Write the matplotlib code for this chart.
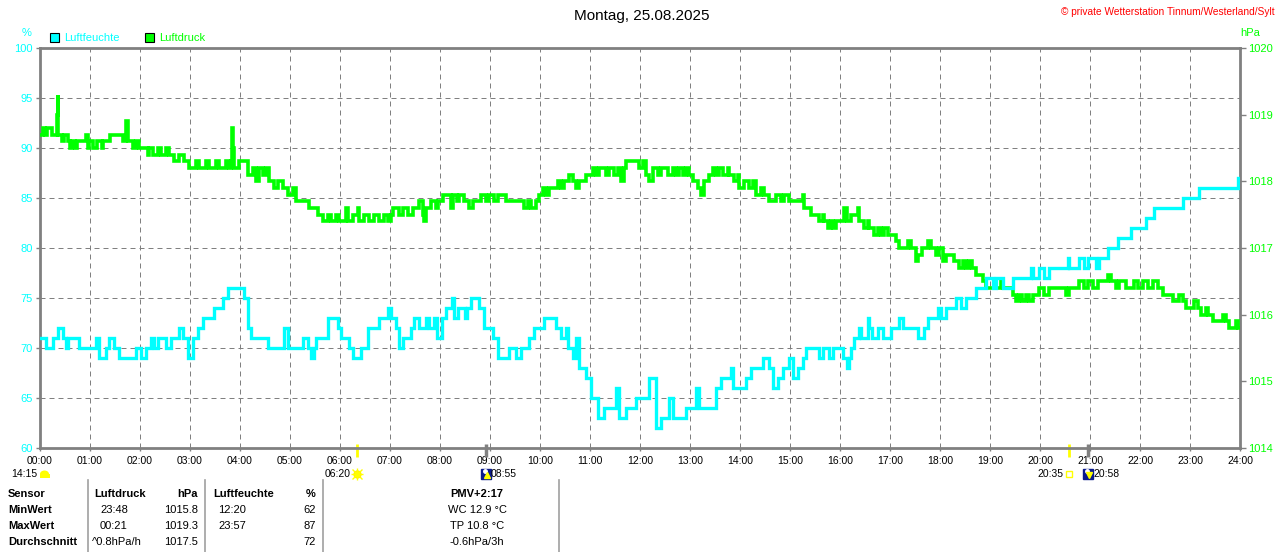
import numpy as np
import matplotlib
matplotlib.use('Agg')
import matplotlib.pyplot as plt
import matplotlib.transforms as mtransforms
import matplotlib.patches as mpatches

plt.rcParams['font.family'] = ['Liberation Sans', 'DejaVu Sans']

# === DATA (minutes since midnight) ===
hum_t = [0, 7, 15, 21, 27, 31, 33, 47, 67, 71, 79, 83, 89, 95, 115, 121, 127, 133, 137, 141,
         151, 157, 167, 171, 177, 183, 189, 195, 209, 219, 225, 245, 249, 253, 273, 293, 297, 315, 321, 325,
         329, 331, 345, 357, 361, 371, 375, 385, 393, 407, 417, 421, 427, 431, 435, 445, 449, 455, 463, 467,
         473, 476, 482, 487, 494, 497, 501, 510, 512, 517, 527, 533, 543, 549, 563, 571, 577, 587, 593, 605,
         619, 625, 631, 633, 639, 643, 647, 655, 661, 669, 677, 691, 695, 703, 715, 731, 739, 745, 755, 759,
         775, 787, 791, 811, 817, 829, 831, 847, 853, 867, 875, 879, 885, 891, 899, 903, 909, 915, 919, 935,
         939, 947, 951, 963, 969, 971, 973, 977, 983, 985, 993, 995, 999, 1005, 1011, 1021, 1031, 1035, 1053, 1061,
         1065, 1077, 1081, 1087, 1099, 1105, 1111, 1123, 1135, 1143, 1147, 1155, 1167, 1189, 1191, 1199, 1205, 1211, 1233, 1235,
         1247, 1253, 1257, 1267, 1271, 1281, 1293, 1309, 1327, 1337, 1371, 1391, 1437, 1440]
hum_v = [71, 70, 71, 72, 71, 70, 71, 70, 71, 69, 70, 71, 70, 69, 70, 69, 70, 71, 70, 71,
         70, 71, 72, 71, 69, 71, 72, 73, 74, 75, 76, 75, 72, 71, 70, 72, 70, 71, 70, 69,
         70, 71, 73, 72, 71, 70, 69, 70, 72, 73, 74, 73, 72, 70, 71, 72, 73, 72, 73, 72,
         73, 71, 73, 74, 75, 73, 74, 73, 74, 75, 74, 72, 71, 69, 70, 69, 70, 71, 72, 73,
         72, 71, 72, 70, 69, 71, 68, 67, 65, 63, 64, 66, 63, 64, 65, 67, 62, 63, 65, 63,
         64, 66, 64, 66, 67, 68, 66, 67, 68, 69, 68, 66, 67, 68, 69, 67, 68, 69, 70, 69,
         70, 69, 70, 69, 68, 69, 70, 71, 72, 71, 73, 72, 71, 72, 71, 72, 73, 72, 71, 72,
         73, 74, 73, 74, 75, 74, 75, 76, 77, 76, 77, 76, 77, 78, 77, 78, 77, 78, 79, 78,
         79, 78, 79, 78, 79, 80, 81, 82, 83, 84, 85, 86, 87, 87]

pres_t = [0, 3, 6, 8, 14, 20, 21, 22, 26, 29, 33, 36, 38, 42, 44, 55, 57, 59, 64, 68,
          74, 76, 84, 99, 103, 105, 111, 115, 119, 129, 131, 135, 141, 145, 151, 155, 161, 167, 173, 179,
          187, 191, 199, 203, 211, 215, 223, 227, 229, 230, 231, 233, 239, 249, 255, 259, 263, 267, 271, 275,
          281, 285, 291, 297, 303, 307, 323, 333, 339, 345, 349, 355, 359, 367, 369, 375, 381, 383, 389, 395,
          401, 407, 413, 417, 421, 423, 431, 435, 441, 447, 455, 459, 461, 463, 469, 475, 477, 483, 493, 495,
          500, 503, 509, 515, 519, 529, 535, 539, 545, 549, 559, 581, 585, 589, 595, 599, 603, 607, 611, 621,
          625, 629, 635, 639, 643, 647, 655, 663, 667, 671, 679, 683, 689, 693, 697, 701, 703, 719, 723, 727,
          731, 735, 741, 745, 753, 759, 763, 767, 771, 775, 779, 783, 789, 793, 797, 803, 807, 811, 815, 819,
          825, 827, 833, 837, 839, 845, 851, 855, 859, 865, 869, 875, 883, 889, 893, 899, 915, 917, 925, 935,
          939, 941, 945, 949, 951, 955, 965, 969, 973, 981, 983, 989, 993, 995, 1001, 1005, 1009, 1013, 1017, 1027,
          1031, 1041, 1045, 1051, 1053, 1059, 1065, 1069, 1075, 1079, 1083, 1087, 1097, 1103, 1107, 1111, 1115, 1119, 1123, 1131,
          1135, 1153, 1155, 1167, 1171, 1175, 1179, 1183, 1187, 1191, 1199, 1205, 1211, 1231, 1235, 1247, 1253, 1257, 1263, 1269,
          1281, 1285, 1291, 1295, 1303, 1313, 1317, 1323, 1329, 1335, 1341, 1347, 1359, 1367, 1371, 1375, 1385, 1389, 1393, 1399,
          1401, 1407, 1419, 1423, 1427, 1435, 1437, 1440]
pres_v = [1018.7, 1018.8, 1018.7, 1018.8, 1018.7, 1019.0, 1019.3, 1018.7, 1018.6, 1018.7, 1018.6, 1018.5, 1018.6, 1018.5, 1018.6, 1018.7, 1018.5, 1018.6, 1018.5, 1018.6,
          1018.5, 1018.6, 1018.7, 1018.6, 1018.9, 1018.6, 1018.5, 1018.6, 1018.5, 1018.4, 1018.5, 1018.4, 1018.5, 1018.4, 1018.5, 1018.4, 1018.3, 1018.4, 1018.3, 1018.2,
          1018.3, 1018.2, 1018.3, 1018.2, 1018.3, 1018.2, 1018.3, 1018.2, 1018.3, 1018.8, 1018.5, 1018.2, 1018.3, 1018.1, 1018.2, 1018.0, 1018.2, 1018.1, 1018.2, 1018.0,
          1017.9, 1018.0, 1017.9, 1017.8, 1017.9, 1017.7, 1017.6, 1017.5, 1017.4, 1017.5, 1017.4, 1017.5, 1017.4, 1017.6, 1017.4, 1017.5, 1017.6, 1017.4, 1017.5, 1017.4,
          1017.5, 1017.4, 1017.5, 1017.4, 1017.5, 1017.6, 1017.5, 1017.6, 1017.5, 1017.6, 1017.7, 1017.5, 1017.4, 1017.6, 1017.7, 1017.6, 1017.7, 1017.8, 1017.6, 1017.8,
          1017.7, 1017.8, 1017.7, 1017.6, 1017.7, 1017.8, 1017.7, 1017.8, 1017.7, 1017.8, 1017.7, 1017.6, 1017.7, 1017.6, 1017.7, 1017.8, 1017.9, 1017.8, 1017.9, 1018.0,
          1017.9, 1018.0, 1018.1, 1018.0, 1017.9, 1018.0, 1018.1, 1018.2, 1018.1, 1018.2, 1018.1, 1018.2, 1018.1, 1018.2, 1018.0, 1018.2, 1018.3, 1018.2, 1018.3, 1018.1,
          1018.0, 1018.2, 1018.1, 1018.2, 1018.1, 1018.2, 1018.1, 1018.2, 1018.1, 1018.2, 1018.1, 1018.0, 1017.9, 1017.8, 1018.0, 1018.1, 1018.2, 1018.1, 1018.2, 1018.1,
          1018.2, 1018.1, 1018.0, 1018.1, 1017.9, 1018.0, 1017.9, 1018.0, 1017.8, 1017.9, 1017.8, 1017.7, 1017.8, 1017.7, 1017.8, 1017.7, 1017.8, 1017.6, 1017.5, 1017.4,
          1017.5, 1017.4, 1017.3, 1017.4, 1017.3, 1017.4, 1017.6, 1017.4, 1017.5, 1017.6, 1017.4, 1017.3, 1017.4, 1017.3, 1017.2, 1017.3, 1017.2, 1017.3, 1017.2, 1017.1,
          1017.0, 1017.1, 1017.0, 1016.8, 1016.9, 1017.0, 1017.1, 1017.0, 1016.9, 1017.0, 1016.8, 1016.9, 1016.8, 1016.7, 1016.8, 1016.7, 1016.8, 1016.7, 1016.6, 1016.5,
          1016.4, 1016.5, 1016.4, 1016.3, 1016.2, 1016.3, 1016.2, 1016.3, 1016.2, 1016.3, 1016.4, 1016.3, 1016.4, 1016.3, 1016.4, 1016.5, 1016.4, 1016.5, 1016.4, 1016.5,
          1016.6, 1016.5, 1016.4, 1016.5, 1016.4, 1016.5, 1016.4, 1016.5, 1016.4, 1016.5, 1016.4, 1016.3, 1016.2, 1016.3, 1016.2, 1016.1, 1016.2, 1016.1, 1016.0, 1016.1,
          1016.0, 1015.9, 1016.0, 1015.9, 1015.8, 1015.9, 1015.8, 1015.8]

assert len(hum_t) == len(hum_v)
assert len(pres_t) == len(pres_v)

hum_ticks = [60, 65, 70, 75, 80, 85, 90, 95, 100]
pres_ticks = [1014, 1015, 1016, 1017, 1018, 1019, 1020]
hour_ticks = list(range(25))
hour_labels = [f'{h:02d}:00' for h in hour_ticks]

# sun / moon events (hours)
sunrise, sunset = 6 + 20 / 60, 20 + 35 / 60
moonrise, moonset = 8 + 55 / 60, 20 + 58 / 60

table_rows = [
    ['Sensor', 'Luftdruck', 'hPa', 'Luftfeuchte', '%', 'PMV+2:17'],
    ['MinWert', '23:48', '1015.8', '12:20', '62', 'WC 12.9 °C'],
    ['MaxWert', '00:21', '1019.3', '23:57', '87', 'TP 10.8 °C'],
    ['Durchschnitt', '^0.8hPa/h', '1017.5', '', '72', '-0.6hPa/3h'],
]

CYAN = '#00ffff'
GREEN = '#00ff00'
GRAY = '#808080'
W, H = 1280, 552

fig = plt.figure(figsize=(12.8, 5.52), dpi=100)
fig.patch.set_facecolor('white')

ax = fig.add_axes([40 / W, 104 / H, 1200 / W, 400 / H])
ax.set_xlim(0, 24)
ax.set_ylim(60, 100)
ax.set_yticks(hum_ticks)
ax.set_yticklabels([str(v) for v in hum_ticks], color=CYAN, fontsize=8)
ax.set_xticks(hour_ticks)
ax.set_xticklabels(hour_labels, fontsize=7.5, color='black')
ax.tick_params(axis='y', length=3, width=1, color=GRAY, pad=2)
ax.tick_params(axis='x', length=2.5, width=1, color=GRAY, pad=3)
for s in ax.spines.values():
    s.set_color(GRAY)
    s.set_linewidth(2)
ax.grid(True, color=GRAY, linewidth=0.72, linestyle=(0, (5, 4)))
ax.set_axisbelow(True)

# pressure on right axis
axp = ax.twinx()
axp.set_ylim(1014, 1020)
axp.set_yticks(pres_ticks)
axp.set_yticklabels([str(v) for v in pres_ticks], color=GREEN, fontsize=8)
axp.tick_params(axis='y', length=4, width=1, color=GRAY, pad=1.5)
for s in axp.spines.values():
    s.set_visible(False)
axp.step(np.array(pres_t) / 60, pres_v, where='post', color=GREEN, linewidth=2.6,
         solid_joinstyle='miter')

# humidity drawn on top
axh = ax.twinx()
axh.set_ylim(60, 100)
axh.axis('off')
axh.step(np.array(hum_t) / 60, hum_v, where='post', color=CYAN, linewidth=2.4,
         solid_joinstyle='miter')
axh.set_xlim(0, 24)
axp.set_xlim(0, 24)

# sun / moon markers below the time axis
trans = mtransforms.blended_transform_factory(ax.transData, ax.transAxes)
for t, c, lw in [(sunrise, '#ffff00', 2), (sunset, '#ffff00', 2),
                 (moonrise, GRAY, 2.5), (moonset, GRAY, 2.5)]:
    ax.plot([t, t], [0.01, -0.0225], color=c, linewidth=lw, transform=trans,
            clip_on=False, solid_capstyle='butt')

yl = -0.065
ax.annotate('06:20', (sunrise, yl), xycoords=trans, xytext=(-4, 0), textcoords='offset points',
            ha='right', va='center', fontsize=7.5)
ax.plot([sunrise], [yl], marker='o', ms=5, color='#ffff00', mec='#ffee00',
        transform=trans, clip_on=False)
ax.plot([sunrise], [yl], marker='+', ms=8.5, mew=1, color='#ffff00', transform=trans, clip_on=False)
ax.plot([sunrise], [yl], marker='x', ms=6.5, mew=1, color='#ffff00', transform=trans, clip_on=False)

ax.annotate('20:35', (sunset, yl), xycoords=trans, xytext=(-4, 0), textcoords='offset points',
            ha='right', va='center', fontsize=7.5)
ax.plot([sunset], [yl], marker='s', ms=4.5, mfc='none', mec='#ffff00', mew=1,
        transform=trans, clip_on=False)

for t, arrow in [(moonrise, '^'), (moonset, 'v')]:
    ax.plot([t], [yl], marker='s', ms=6.5, color='#0a1a8c', transform=trans, clip_on=False)
    ax.plot([t - 0.02], [yl + 0.008], marker='o', ms=2.5, color='white', transform=trans,
            clip_on=False)
    ax.plot([t + 0.02], [yl - 0.002], marker=arrow, ms=4, color='#ffff00', transform=trans,
            clip_on=False)
    ax.annotate(f'{int(t):02d}:{round((t % 1) * 60):02d}', (t, yl), xycoords=trans,
                xytext=(3.5, 0), textcoords='offset points', ha='left', va='center',
                fontsize=7.5)

# overlay in pixel coordinates for header, legend and table
ov = fig.add_axes([0, 0, 1, 1])
ov.set_xlim(0, W)
ov.set_ylim(H, 0)
ov.axis('off')

ov.text(642, 16, 'Montag, 25.08.2025', ha='center', va='center', fontsize=11)
ov.text(1275, 12, '© private Wetterstation Tinnum/Westerland/Sylt', ha='right', va='center',
        fontsize=7.3, color='#ff0000')
ov.text(27, 33, '%', ha='center', va='center', fontsize=8, color=CYAN)
ov.text(1250, 33, 'hPa', ha='center', va='center', fontsize=8, color=GREEN)

ov.add_patch(mpatches.Rectangle((50, 33), 9, 9, facecolor=CYAN, edgecolor='black', lw=0.8))
ov.text(64, 38, 'Luftfeuchte', ha='left', va='center', fontsize=8, color=CYAN)
ov.add_patch(mpatches.Rectangle((145, 33), 9, 9, facecolor=GREEN, edgecolor='black', lw=0.8))
ov.text(159, 38, 'Luftdruck', ha='left', va='center', fontsize=8, color=GREEN)

# day length with cloud icon
ov.text(37, 474, '14:15', ha='right', va='center', fontsize=7.5)
ov.add_patch(mpatches.Ellipse((44.5, 474), 9, 7, facecolor='#ffff00', edgecolor='none'))
ov.add_patch(mpatches.Rectangle((39.5, 474), 10, 4, facecolor='#ffff00', edgecolor='none'))

# table
for x in [88, 205, 323, 559]:
    ov.plot([x, x], [480, 552], color='#a0a0a0', linewidth=1.2)

row_y = [494, 510, 526, 542]
for i, row in enumerate(table_rows):
    bold = 'bold' if i == 0 else 'normal'
    y = row_y[i]
    ov.text(8, y, row[0], ha='left', va='center', fontsize=8, fontweight='bold')
    ov.text(94 if i == 0 else (92 if i == 3 else 100), y, row[1], ha='left', va='center',
            fontsize=8, fontweight=bold)
    ov.text(198, y, row[2], ha='right', va='center', fontsize=8, fontweight=bold)
    ov.text(213 if i == 0 else 218, y, row[3], ha='left', va='center', fontsize=8, fontweight=bold)
    ov.text(316, y, row[4], ha='right', va='center', fontsize=8, fontweight=bold)
    ov.text(477, y, row[5], ha='center', va='center', fontsize=8, fontweight=bold)

fig.savefig('out.png', dpi=100, facecolor='white')
